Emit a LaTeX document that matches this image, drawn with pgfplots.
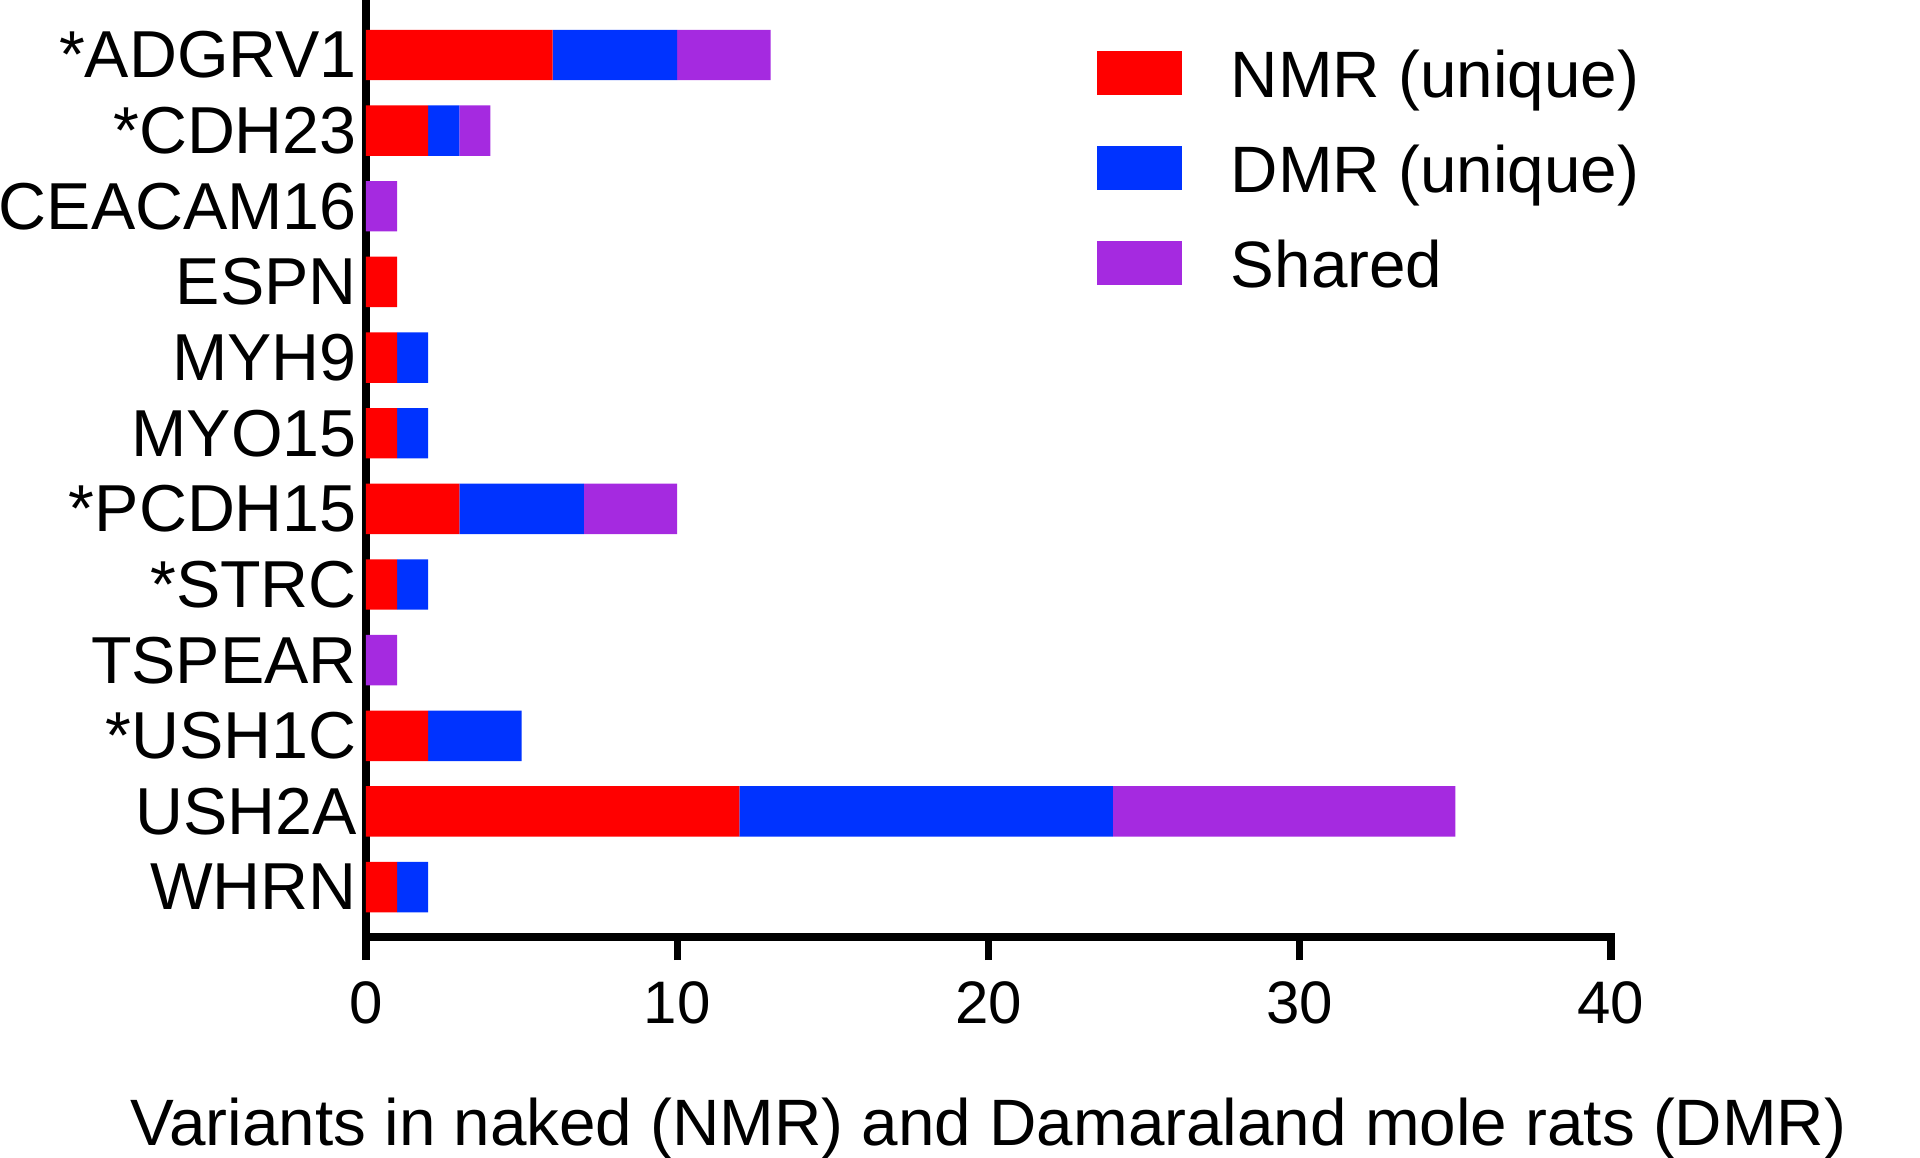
\documentclass[border=0pt]{standalone}
\usepackage{fontspec}
\setmainfont{Liberation Sans}
\usepackage{pgfplots}
\pgfplotsset{compat=1.18}
\usepackage{pgfplotstable}
\definecolor{cnmr}{RGB}{255,0,0}
\definecolor{cdmr}{RGB}{0,51,255}
\definecolor{cshr}{RGB}{165,42,224}
\pgfplotstableread{
y nmr dmr shr
0 6 4 3
1 2 1 1
2 0 0 1
3 1 0 0
4 1 1 0
5 1 1 0
6 3 4 3
7 1 1 0
8 0 0 1
9 2 3 0
10 12 12 11
11 1 1 0
}\datatab
\begin{document}
\begin{tikzpicture}
\useasboundingbox (-91.5pt,-55.25pt) rectangle (388.5pt,234.25pt);
\begin{axis}[
  at={(0pt,0pt)}, anchor=south west,
  scale only axis,
  width=311.25pt, height=234.25pt,
  xbar stacked,
  bar width=12.6pt,
  xmin=0, xmax=40,
  ymin=-0.727, ymax=11.66,
  y dir=reverse,
  axis x line*=bottom,
  axis y line*=left,
  axis line style={line width=1.9pt, line cap=rect},
  xtick={0,10,20,30,40},
  ytick={0,1,2,3,4,5,6,7,8,9,10,11},
  yticklabels={*ADGRV1,*CDH23,CEACAM16,ESPN,MYH9,MYO15,*PCDH15,*STRC,TSPEAR,*USH1C,USH2A,WHRN},
  tick align=outside,
  major tick length=5.75pt,
  xtick style={line width=1.8pt, black},
  ytick style={draw=none},
  /pgf/number format/assume math mode=true,
  xticklabel style={font=\fontsize{15}{18}\selectfont, inner sep=0pt, anchor=north, yshift=-5.2pt},
  yticklabel style={font=\fontsize{16.6}{20}\selectfont, inner sep=0pt, anchor=east, xshift=3.65pt},
  xlabel={Variants in naked (NMR) and Damaraland mole rats (DMR)},
  xlabel style={font=\fontsize{16.4}{20}\selectfont, at={(axis description cs:0.5,0)}, anchor=base, yshift=-52pt, inner sep=0pt},
  legend image code/.code={\fill[#1] (0pt,-5.4pt) rectangle (21.25pt,5.4pt);},
  legend style={at={(0.587,0.9515)}, anchor=north west, draw=none, inner sep=0pt, outer sep=0pt,
    font=\fontsize{16.4}{20}\selectfont, row sep=9.95pt, column sep=12.25pt,
    nodes={inner sep=0pt, text height=13pt, text depth=0.8pt}},
  legend cell align=left,
]
\addplot[fill=cnmr, draw=none] table[x=nmr, y=y] {\datatab};
\addplot[fill=cdmr, draw=none] table[x=dmr, y=y] {\datatab};
\addplot[fill=cshr, draw=none] table[x=shr, y=y] {\datatab};
\legend{NMR (unique), DMR (unique), Shared}
\end{axis}
\end{tikzpicture}
\end{document}
